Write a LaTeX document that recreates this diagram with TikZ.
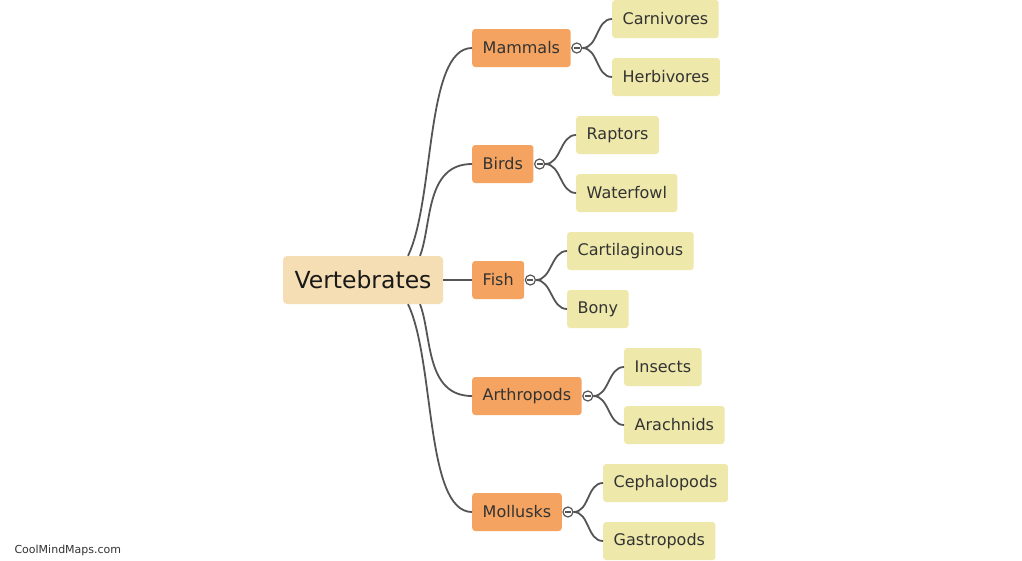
\documentclass[tikz,border=0pt]{standalone}
\usepackage{fontspec}
\setmainfont{DejaVu Sans}
\definecolor{rootc}{HTML}{F5DEB3}
\definecolor{branchc}{HTML}{F4A460}
\definecolor{leafc}{HTML}{EEE8AA}
\definecolor{linec}{HTML}{555555}
\definecolor{txtc}{HTML}{333333}
\tikzset{
  root/.style={fill=rootc, rounded corners=4pt, minimum width=160pt, minimum height=48pt,
    inner sep=0pt, text=black!90, font=\fontsize{23.5}{26}\selectfont},
  branch/.style={fill=branchc, rounded corners=3pt, minimum height=38pt, inner xsep=10.5pt,
    anchor=west, text=txtc, font=\fontsize{16}{18}\selectfont},
  leaf/.style={fill=leafc, rounded corners=3pt, minimum height=38pt, inner xsep=10.5pt,
    anchor=west, text=txtc, font=\fontsize{16}{18}\selectfont},
  fold/.style={circle, draw=linec, fill=white, line width=1.2pt, minimum size=10pt, inner sep=0pt,
    path picture={\draw[linec, line width=1.2pt]
      ([xshift=-3pt]path picture bounding box.center) -- ([xshift=3pt]path picture bounding box.center);}},
  link/.style={draw=linec, line width=1.8pt}
}
\begin{document}
\begin{tikzpicture}[x=1pt, y=-1pt]
  \fill[white] (0,0) rectangle (1022,560);
  \useasboundingbox (0,0) rectangle (1022,560);

  % root and main branches
  \node[root]   (vert)  at (363,280) {Vertebrates};
  \node[branch] (mamm)  at (472,48)  {Mammals};
  \node[branch] (bird)  at (472,164) {Birds};
  \node[branch] (fish)  at (472,280) {Fish};
  \node[branch] (arth)  at (472,396) {Arthropods};
  \node[branch] (moll)  at (472,512) {Mollusks};

  % leaves
  \node[leaf] (carn)  at (612,19)  {Carnivores};
  \node[leaf] (herb)  at (612,77)  {Herbivores};
  \node[leaf] (rapt)  at (576,135) {Raptors};
  \node[leaf] (wfowl) at (576,193) {Waterfowl};
  \node[leaf] (cart)  at (567,251) {Cartilaginous};
  \node[leaf] (bony)  at (567,309) {Bony};
  \node[leaf] (insc)  at (624,367) {Insects};
  \node[leaf] (arac)  at (624,425) {Arachnids};
  \node[leaf] (ceph)  at (603,483) {Cephalopods};
  \node[leaf] (gast)  at (603,541) {Gastropods};

  % links from the root
  \draw[link] ([xshift=45pt]vert.north) .. controls +(27,-56) and +(-47,0) .. (mamm.west);
  \draw[link] ([xshift=57pt]vert.north) .. controls +(12,-31) and +(-47,0) .. (bird.west);
  \draw[link] (vert.east) -- (fish.west);
  \draw[link] ([xshift=57pt]vert.south) .. controls +(12,31) and +(-47,0) .. (arth.west);
  \draw[link] ([xshift=45pt]vert.south) .. controls +(27,56) and +(-47,0) .. (moll.west);

  % links to the leaves
  \foreach \b/\u/\d in {mamm/carn/herb, bird/rapt/wfowl, fish/cart/bony, arth/insc/arac, moll/ceph/gast}{
    \node[fold] (\b-f) at ([xshift=6pt]\b.east) {};
    \draw[link] (\b-f.east) .. controls +(16,0) and +(-16,0) .. (\u.west);
    \draw[link] (\b-f.east) .. controls +(16,0) and +(-16,0) .. (\d.west);
  }

  \node[anchor=west, text=txtc, font=\fontsize{11}{13}\selectfont] (mark) at (11,550) {CoolMindMaps.com};
\end{tikzpicture}
\end{document}
